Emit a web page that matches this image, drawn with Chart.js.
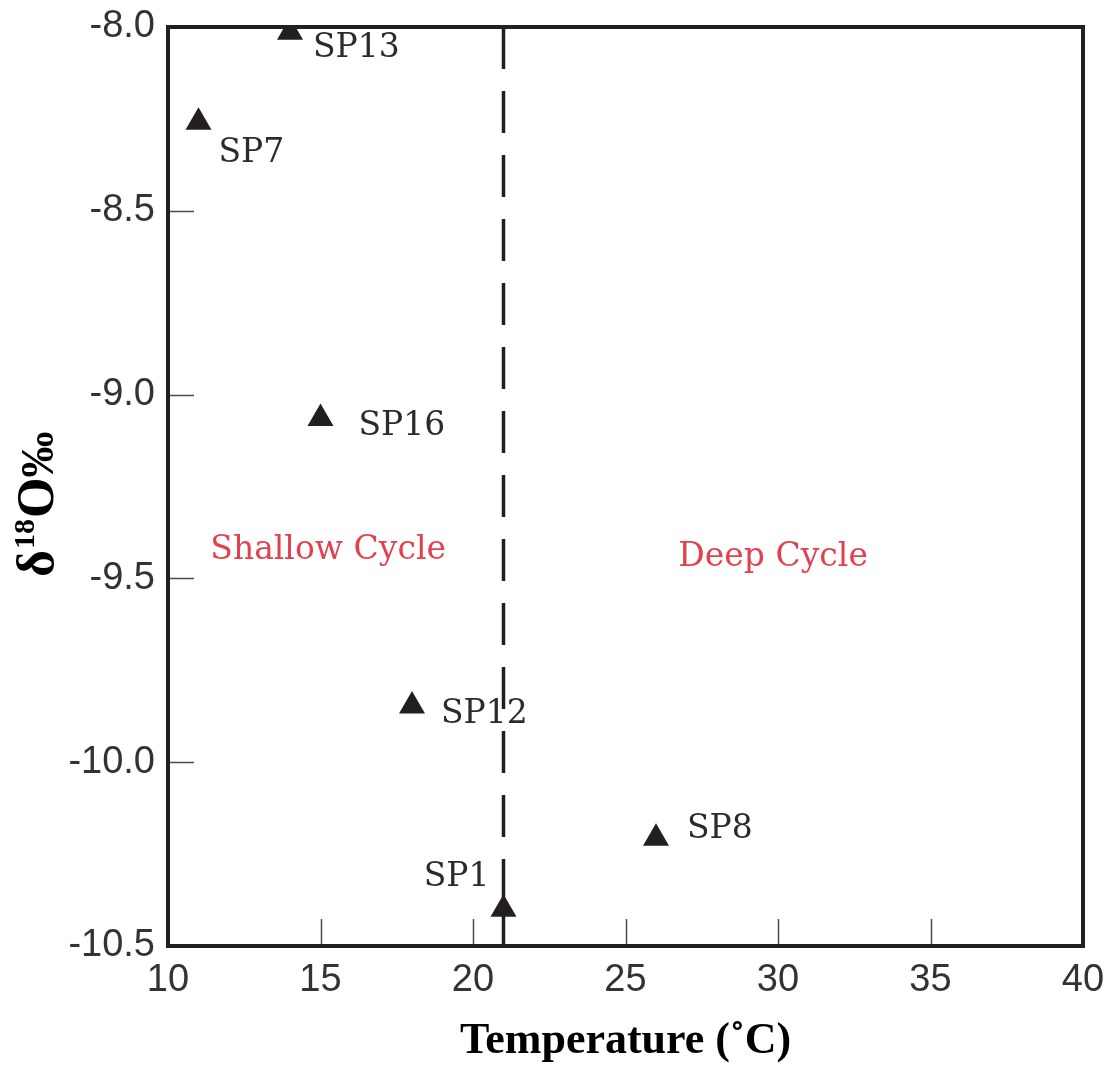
<!DOCTYPE html>
<html><head><meta charset="utf-8">
<script src="https://cdn.jsdelivr.net/npm/chart.js@4/dist/chart.umd.min.js"></script>
<style>html,body{margin:0;padding:0;background:#fff}#wrap{width:1108px;height:1070px;position:relative}</style>
</head><body><div id="wrap"><canvas id="c"></canvas></div>
<script>
// ---- data ----
const sampleNames = ['SP13', 'SP7', 'SP16', 'SP12', 'SP8', 'SP1'];
const temperatures = [14, 11, 15, 18, 26, 21];
const delta18O = [-8.014, -8.259, -9.065, -9.847, -10.207, -10.40];
const xTicks = [10, 15, 20, 25, 30, 35, 40];
const yTicks = [-8.0, -8.5, -9.0, -9.5, -10.0, -10.5];
const boundaryTemp = 21;
const regionNames = ['Shallow Cycle', 'Deep Cycle'];
const regionTemp = [15.25, 29.84];
const regionDelta = [-9.447, -9.466];

// ---- style ----
const INK = '#231f20';
const labelOffsets = [
  {dx: 23, dy: 25, align: 'left'},
  {dx: 20, dy: 40, align: 'left'},
  {dx: 38, dy: 17, align: 'left'},
  {dx: 29, dy: 17, align: 'left'},
  {dx: 31, dy: 0, align: 'left'},
  {dx: -14, dy: -23, align: 'right'}
];

const sp1 = sampleNames.indexOf('SP1');
const yMax = Math.max(...yTicks), yMin = Math.min(...yTicks);

const annotPlugin = {
  id: 'annot',
  afterDatasetsDraw(chart) {
    const ctx = chart.ctx;
    const {left, right, top, bottom} = chart.chartArea;
    const xs = chart.scales.x, ys = chart.scales.y;
    ctx.save();
    // inward ticks
    ctx.strokeStyle = '#4a4a4a';
    ctx.lineWidth = 1.5;
    xTicks.forEach(v => {
      if (v === xs.min || v === xs.max) return;
      const px = Math.round(xs.getPixelForValue(v)) + 0.5;
      ctx.beginPath(); ctx.moveTo(px, bottom); ctx.lineTo(px, bottom - 27); ctx.stroke();
    });
    yTicks.forEach(v => {
      if (v === ys.min || v === ys.max) return;
      const py = Math.round(ys.getPixelForValue(v)) + 0.5;
      ctx.beginPath(); ctx.moveTo(left, py); ctx.lineTo(left + 26, py); ctx.stroke();
    });
    // frame
    ctx.strokeStyle = INK;
    ctx.lineWidth = 4;
    ctx.strokeRect(left, top, right - left, bottom - top);
    // point labels
    ctx.fillStyle = '#2b2b2b';
    ctx.font = '33px "DejaVu Serif"';
    ctx.textBaseline = 'alphabetic';
    const meta = chart.getDatasetMeta(2);
    sampleNames.forEach((n, i) => {
      const el = meta.data[i];
      const o = labelOffsets[i];
      ctx.textAlign = o.align;
      ctx.fillText(n, el.x + o.dx, el.y + o.dy);
    });
    // region labels
    ctx.fillStyle = '#e0434f';
    ctx.textAlign = 'center';
    regionNames.forEach((n, i) => {
      ctx.fillText(n, xs.getPixelForValue(regionTemp[i]), ys.getPixelForValue(regionDelta[i]));
    });
    ctx.restore();
  },
  afterDraw(chart) {
    const ctx = chart.ctx;
    ctx.save();
    ctx.translate(53, 577);
    ctx.rotate(-Math.PI / 2);
    ctx.fillStyle = '#000';
    ctx.textBaseline = 'alphabetic';
    ctx.textAlign = 'left';
    let x = 0;
    ctx.font = 'bold 52px "Liberation Serif"';
    ctx.fillText('δ', x, 0); x += ctx.measureText('δ').width + 1;
    ctx.font = 'bold 30px "Liberation Serif"';
    ctx.fillText('18', x, -19); x += ctx.measureText('18').width + 1;
    ctx.font = 'bold 52px "Liberation Serif"';
    ctx.fillText('O', x, 0); x += ctx.measureText('O').width;
    ctx.font = 'bold 46px "Liberation Serif"';
    ctx.fillText('‰', x, 0);
    ctx.restore();
  }
};

new Chart(document.getElementById('c'), {
  data: {
    datasets: [
      {
        type: 'line',
        data: [{x: boundaryTemp, y: yMax}, {x: boundaryTemp, y: delta18O[sp1]}],
        borderColor: INK, borderWidth: 3.5, borderDash: [42, 22],
        pointRadius: 0, fill: false
      },
      {
        type: 'line',
        data: [{x: boundaryTemp, y: delta18O[sp1]}, {x: boundaryTemp, y: yMin}],
        borderColor: INK, borderWidth: 3.5,
        pointRadius: 0, fill: false
      },
      {
        type: 'scatter',
        data: temperatures.map((t, i) => ({x: t, y: delta18O[i]})),
        pointStyle: 'triangle', pointRadius: 15, pointHoverRadius: 15,
        backgroundColor: INK, borderColor: INK, borderWidth: 0
      }
    ]
  },
  options: {
    responsive: true, maintainAspectRatio: false, animation: false,
    layout: {padding: {top: 27, right: 25, left: 0, bottom: 0}},
    plugins: {legend: {display: false}, tooltip: {enabled: false}},
    scales: {
      x: {
        type: 'linear', min: xTicks[0], max: xTicks[xTicks.length - 1],
        afterBuildTicks: s => { s.ticks = xTicks.map(v => ({value: v})); },
        afterFit: s => { s.height = 124; s.paddingLeft = 0; s.paddingRight = 0; },
        grid: {display: false, drawTicks: false},
        border: {display: false},
        ticks: {color: '#333', font: {family: '"Liberation Sans"', size: 38}, padding: 12, maxRotation: 0,
          callback: v => String(v)},
        title: {display: true, text: 'Temperature (˚C)', color: '#000',
          font: {family: '"Liberation Serif"', size: 44, weight: 'bold'}, padding: {top: 0, bottom: 2}}
      },
      y: {
        type: 'linear', min: yMin, max: yMax,
        afterBuildTicks: s => { s.ticks = yTicks.map(v => ({value: v})); },
        afterFit: s => { s.width = 168; s.paddingTop = 0; s.paddingBottom = 0; },
        grid: {display: false, drawTicks: false},
        border: {display: false},
        ticks: {color: '#333', font: {family: '"Liberation Sans"', size: 38}, padding: 13,
          callback: v => Number(v).toFixed(1)}
      }
    }
  },
  plugins: [annotPlugin]
});
</script></body></html>
